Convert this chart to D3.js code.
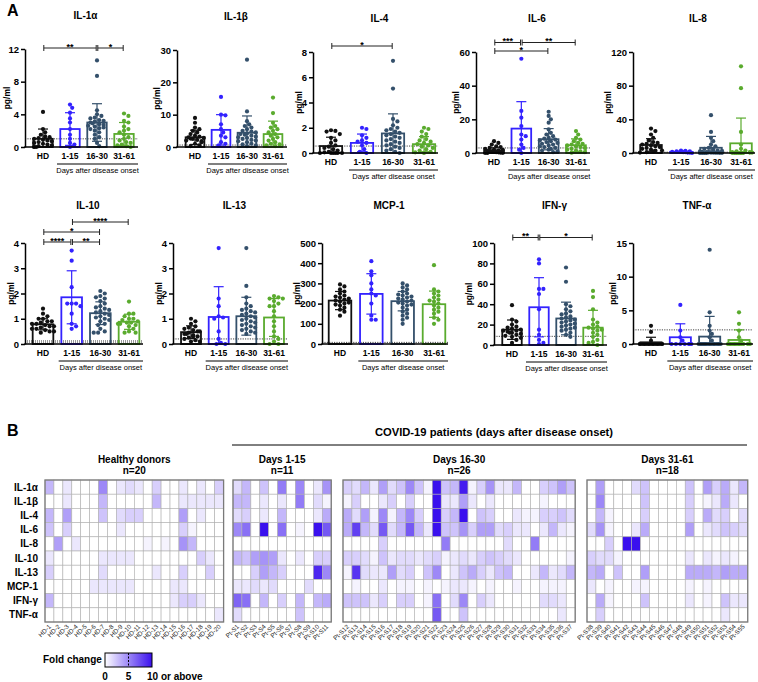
<!DOCTYPE html>
<html><head><meta charset="utf-8">
<script src="https://cdn.jsdelivr.net/npm/d3@7"></script>
<style>
body{margin:0;background:#fff}
svg{display:block}
text{font-family:"Liberation Sans",Arial,Helvetica,sans-serif}
</style>
</head><body><svg id="c" width="758" height="682"></svg>
<script>
// ---------------- DATA ----------------
const cytokines = ["IL-1α","IL-1β","IL-4","IL-6","IL-8","IL-10","IL-13","MCP-1","IFN-γ","TNF-α"];
const groups = ["HD","1-15","16-30","31-61"];
const yTicks = [[0,4,8,12],[0,10,20,30],[0,2,4,6,8],[0,20,40,60],[0,40,80,120],[0,1,2,3,4],[0,1,2,3,4],[0,100,200,300,400,500],[0,20,40,60,80,100],[0,5,10,15]];
const detectionLimit = [1.0,0.6,0.55,3.0,1.0,0.1,0.2,8,8.5,2.1];
const means = [[1.0,2.2,3.0,1.6],[3.0,5.3,4.4,4.0],[0.55,0.8,1.55,0.7],[1.6,14.5,8.2,4.6],[9.5,1.4,6.2,11.5],
               [0.78,1.85,1.22,0.88],[0.47,1.07,1.1,1.05],[215,248,212,197],[15,37,26,17],[0.25,1.0,1.1,0.6]];
const sds = [[1.2,2.0,2.3,1.4],[2.2,4.7,5.2,4.0],[0.7,0.7,1.55,0.6],[1.5,16,6.3,3.8],[7.5,0.8,13.5,30],
             [0.22,1.05,0.45,0.3],[0.25,1.2,0.75,0.75],[45,100,48,65],[9.5,29,16,17],[0.75,2.0,3.0,1.5]];

const pts_IL1a = [[4.3,2.2,1.8,1.5,1.3,1.2,1.1,1.0,0.9,0.8,0.7,0.6,0.5,0.4,0.3,0.2,0.1,0,0,0],
  [5.2,4.8,4.2,3.5,3.0,2.2,1.5,1.0,0.5,0.3,0],
  [10.6,8.7,4.5,4.0,3.8,3.6,3.5,3.3,3.2,3.1,3.0,2.9,2.8,2.7,2.6,2.5,2.4,2.3,2.2,2.0,1.8,1.5,1.2,1.0,0.5,0.1],
  [4.1,3.8,3.2,3.0,2.5,2.2,2.0,1.8,1.5,1.2,1.0,0.8,0.6,0.5,0.3,0.2,0.1,0]];
const pts_IL1b = [[9,7.5,6,5.5,5,4.5,4,3.5,3.2,3,2.8,2.6,2.5,2.2,2,1.8,1.5,1,0.5,0.3],
  [15.5,10,9.8,7,5.5,4.5,3.5,3,1.5,1,0.5],
  [27,11,8,7,6.5,6,5.5,5,4.8,4.5,4.2,4,3.8,3.5,3.2,3,2.8,2.5,2.2,2,1.8,1.5,1,0.8,0.5,0.3],
  [15.3,10.5,7.5,6.5,6,5.5,5,4.5,4,3.5,3,2.5,2,1.5,1,0.8,0.5,0.3]];
const pts_IL4 = [[1.8,1.75,1.7,1.5,1.2,1.0,0.8,0.6,0.5,0.4,0.3,0.2,0.1,0.05,0,0,0,0,0,0],
  [2.0,1.9,1.4,1.2,1.0,0.9,0.8,0.6,0.3,0.1,0],
  [7.3,5.1,2.7,2.5,2.2,2.0,1.9,1.8,1.7,1.6,1.5,1.4,1.3,1.2,1.1,1.0,0.9,0.8,0.7,0.6,0.5,0.4,0.3,0.2,0.1,0],
  [2.0,1.9,1.7,1.5,1.3,1.1,1.0,0.9,0.8,0.7,0.6,0.5,0.4,0.3,0.2,0.1,0.05,0]];
const pts_IL6 = [[7,6,5,4,3.5,3,2.5,2,1.8,1.5,1.2,1,0.8,0.6,0.5,0.4,0.2,0.1,0,0],
  [56,25,21,16,11,10,8,5,3,2,0],
  [24.5,22,20,18,14,12,11,10,9,8.5,8,7.5,7,6.5,6,5.5,5,4.5,4,3.5,3,2.5,2,1.5,1,0.5],
  [13,11,9,8,7,6,5.5,5,4.5,4,3.5,3,2.5,2,1.5,1,0.5,0.2]];
const pts_IL8 = [[29,26,22,18,15,13,12,11,10,9,8,7,6,5,4,3,3,2,1,0.5],
  [3,2.5,2,2,1.5,1.5,1,1,0.5,0.5,0],
  [45,25,18,14,10,8,6,5,4,3,2.5,2,1.5,1,1,0.8,0.5,0.5,0.3,0.3,0.2,0.2,0.1,0.1,0,0],
  [103,77,25,10,5,3,2,1,1,0.5,0.5,0.3,0.2,0.1,0,0,0,0]];
const pts_IL10 = [[1.4,1.2,1.1,1.0,1.0,0.9,0.9,0.85,0.8,0.8,0.75,0.7,0.7,0.65,0.6,0.6,0.55,0.5,0.5,0.45],
  [3.7,3.3,2.25,1.6,1.6,1.6,1.5,1.2,0.8,0.7,0.6],
  [2.1,2.0,1.9,1.85,1.8,1.7,1.6,1.5,1.45,1.4,1.35,1.3,1.25,1.2,1.15,1.1,1.05,1.0,0.95,0.9,0.8,0.75,0.6,0.5,0.45,0.45],
  [1.68,1.2,1.2,1.1,1.0,1.0,0.95,0.9,0.85,0.85,0.8,0.8,0.75,0.7,0.6,0.5,0.45,0.45]];
const pts_IL13 = [[1.0,0.9,0.8,0.7,0.65,0.6,0.55,0.5,0.5,0.45,0.4,0.4,0.35,0.3,0.3,0.25,0.2,0.15,0.1,0.1],
  [3.8,1.8,1.5,1.1,1.05,1.0,0.5,0.2,0.05,0.0,0.0],
  [3.8,2.3,1.85,1.6,1.5,1.4,1.35,1.3,1.25,1.2,1.15,1.1,1.05,1.0,0.95,0.9,0.85,0.8,0.75,0.7,0.65,0.6,0.55,0.5,0.45,0.4],
  [1.9,1.85,1.8,1.8,1.7,1.6,1.5,1.5,1.3,1.1,0.9,0.7,0.5,0.3,0.2,0.1,0.0,0.0]];
const pts_MCP1 = [[295,285,270,260,250,240,235,230,225,220,215,210,205,200,195,190,180,170,160,140],
  [410,360,340,300,270,250,240,200,140,120,120],
  [300,290,280,270,260,250,245,240,235,230,225,220,215,210,205,200,195,190,180,170,160,150,140,130,120,100],
  [390,270,260,250,240,230,220,215,210,200,190,180,170,160,150,130,120,100]];
const pts_IFNg = [[39,25,23,20,18,17,16,15,14,14,13,12,12,11,10,9,8,7,5,2],
  [84,80,55,55,50,35,15,10,5,2,1],
  [76,62,40,38,35,33,31,30,28,27,26,25,24,23,22,21,20,19,18,17,16,15,14,12,10,8],
  [53,47,35,25,22,20,18,17,16,15,14,12,10,8,5,3,2,0]];
const pts_TNFa = [[2.7,1.8,0.5,0,0,0,0,0,0,0,0,0,0,0,0,0,0,0,0,0],
  [5.8,2.0,1.0,0.5,0,0,0,0,0,0,0],
  [14,4.7,2.7,2.0,1.5,1.0,0.5,0,0,0,0,0,0,0,0,0,0,0,0,0,0,0,0,0,0,0],
  [4.7,3.0,2.0,1.0,0.5,0,0,0,0,0,0,0,0,0,0,0,0,0]];
const points = [pts_IL1a,pts_IL1b,pts_IL4,pts_IL6,pts_IL8,pts_IL10,pts_IL13,pts_MCP1,pts_IFNg,pts_TNFa];

const sigBrackets = [
  {cyto:0, level:0,   segs:[["HD","16-30","**"],["16-30","31-61","*"]]},
  {cyto:2, level:0.5, segs:[["HD","16-30","*"]]},
  {cyto:3, level:0,   segs:[["HD","16-30","*"]]},
  {cyto:3, level:0.85,segs:[["HD","1-15","***"],["1-15","31-61","**"]]},
  {cyto:5, level:0,   segs:[["HD","1-15","****"],["1-15","16-30","**"]]},
  {cyto:5, level:1,   segs:[["HD","16-30","*"]]},
  {cyto:5, level:2,   segs:[["1-15","31-61","****"]]},
  {cyto:8, level:0.45,segs:[["HD","1-15","**"],["1-15","31-61","*"]]}
];

// Heatmap (fold change)
const hdLabels = ["HD-1","HD-2","HD-3","HD-4","HD-5","HD-6","HD-7","HD-8","HD-9","HD-10","HD-11","HD-12","HD-13","HD-14","HD-15","HD-16","HD-17","HD-18","HD-19","HD-20"];
const d1Labels = ["Pt-S1","Pt-S2","Pt-S3","Pt-S4","Pt-S5","Pt-S6","Pt-S7","Pt-S8","Pt-S9","Pt-S10","Pt-S11"];
const d2Labels = ["Pt-S12","Pt-S13","Pt-S14","Pt-S15","Pt-S16","Pt-S17","Pt-S18","Pt-S19","Pt-S20","Pt-S21","Pt-S22","Pt-S23","Pt-S24","Pt-S25","Pt-S26","Pt-S27","Pt-S28","Pt-S29","Pt-S30","Pt-S31","Pt-S32","Pt-S33","Pt-S34","Pt-S35","Pt-S36","Pt-S37"];
const d3Labels = ["Pt-S38","Pt-S39","Pt-S40","Pt-S41","Pt-S42","Pt-S43","Pt-S44","Pt-S45","Pt-S46","Pt-S47","Pt-S48","Pt-S49","Pt-S50","Pt-S51","Pt-S52","Pt-S53","Pt-S54","Pt-S55"];

const fold_HD = [
  [3,0,1,0,0,0,5,0,1,1.5,1,0,2,0,0,1,0,1,0,2],
  [0,0,1,0,0,0,3,0,0,0,0,0,3,0,0,1,1,1,1,1],
  [3,0,4,0,0,0,2.5,0,1.5,2,2,0,0,0,0,4,0,1,0,0],
  [2.5,0,2,0,0,0,0,0,1,0,0,0,0,0,0,2,0.5,0,0,0],
  [0,4,0,1,0,0,0,0,0,0,0,0.5,0,0.5,0,4.5,3,0,0,0],
  [1,0,0,0,0,0,1,1,1,1,0,0,0,0,0,0,0,2,1,0],
  [2,0,0,0,0,0,1.5,0,0,0,0,0,1,0,0,2,0,0,2,0],
  [0,0,0,0,0,1,1,1,1,1,0,0,0,0,1,1,0,0,0,0],
  [3,0,0,0,0,0,0,0,0,0,0,0,0,0,1,2,2,1,0,0],
  [0,0,0,0,0,0,0,0,0,0,0,0,0,0,0,0,0,0,0,1]];
const fold_D1 = [
  [1.5,3,0,2.5,0,5.5,0,5,0,1,4.5],
  [3,3,0,1,0,1,0,5.5,0,1.5,0.5],
  [1.5,2,0,1,0,3,0,0,0,1,3.5],
  [5,6,0,10,0,6,0,0.5,0,10,7],
  [0,0,0,0,0,0,0,0,0,0,0],
  [3,2.5,4,4.5,4,1,0,1,0,2,2],
  [0,0,2,4,3,2,0,0,0,9,5],
  [1,1,1.5,1,1.5,0,0,0,1.5,0,0],
  [6.5,6,0,3,0,2,0,3,0,3,3.5],
  [1.5,0,0,0,0,0,0,2.5,0,0,0]];
const fold_D2 = [
  [2,1.5,3,1,4,1.5,2.5,5,2.5,0.5,10,2.5,3,9.5,0.5,2,4.5,1,1,3,0,0,2,2.5,4,2.5],
  [0.5,2,0,0,1,2,0,2,0,0,10,1,1,4,1,0,1,0,0,0,0,0,0.5,0,0,0],
  [3.5,1.5,4,0.5,5,0.5,3,5,2,0,10,2,3,10,0,2.5,2,0,0,1,0.5,0.5,2,2,2.5,1.5],
  [3.5,8,3,1.5,7,1.5,3,7,3,1,10,2.5,2.5,4.5,2,4,4,1.5,2,1,1,0,1,3,1,0.5],
  [0,0,0,0,2,0,0,0,0,0,0,5.5,0,0,0,0,0,0,1.5,0,0,5.5,0,0,0,0],
  [2,2,1.5,0.5,2.5,1,1.5,1.5,1,1.5,2,0.5,1,1.5,1,2,2.5,2,1.5,1,0,0,0,0,0,0.5],
  [0.5,8.5,1.5,1,1,4,1.5,2,0,2.5,5,0,1,2.5,3.5,2,1,2.5,3,0,0,1,3,1,1.5,3],
  [0,0.5,0,0,1,0,0.5,0.5,0,0.5,0,0.5,1,1,0.5,0,0.5,0,0,0.5,0,0,0.5,0.5,0.5,0],
  [2.5,2.5,2.5,1,2,0,2,2,0,0.5,6,0,1.5,5,0,2,1,0,0,0,0,0,1.5,1.5,1,0],
  [0,0,0,0,0,0,0,0,0,0,7,0,0,2.5,0,0,0,0,0,0,0,0,0,0,1,0]];
const fold_D3 = [
  [0,4,0,0,0,1.5,2.5,0,0,0,0,2.5,0,4,2,3.5,1,3],
  [0,5,0,0,0,0,2.5,0,0,0,0,2,0,0.5,1,3.5,1,0],
  [0,3,0.5,0,0,0,2,0,0,0,0,2,0,3.5,1.5,2,0,1.5],
  [1.5,4.5,0.5,0,0,1,3.5,0,0,0,0,4,0,1,1.5,2.5,2,1.5],
  [0,0,2,0,10,10,0,0,0,0,0,0,0,0,0,0,0,0],
  [2,1.5,1.5,0.5,0,0,0,0,0,0,0,1,0,1,0.5,1,0.5,0],
  [3,3.5,0,2.5,0,0,4,0,0,0,0,3.5,3.5,3.5,3,4,3.5,3.5],
  [1,0,0.5,0,0,0.5,0.5,0,0,0,0,0.5,0,0.5,0,0,0,0],
  [0,3.5,0.5,0,0,0,2.5,0,0,0,0,1,0,0.5,0,2.5,1,1],
  [0,2,0,0,0,0,0,0,0,0,0,0,0,0,0,1,0,0]];
const legendTicks = ["0","5","10 or above"];

// ---------------- DRAW ----------------
const FONT = '"Liberation Sans",Arial,Helvetica,sans-serif';
const svg = d3.select("#c");
const groupColors = ["#111111","#3322ff","#34506b","#5aab2e"];

svg.append("text").attr("x",7).attr("y",16).attr("font-size",16).attr("font-weight","bold").text("A");
svg.append("text").attr("x",7).attr("y",436).attr("font-size",16).attr("font-weight","bold").text("B");

const layout = [
  {x0:25,x1:138,yt:49,yb:147},{x0:177,x1:287,yt:50,yb:147},{x0:313,x1:438,yt:52,yb:153},
  {x0:476,x1:590,yt:52,yb:153},{x0:633,x1:755,yt:52,yb:153},
  {x0:25,x1:143,yt:243,yb:344},{x0:173,x1:288,yt:243,yb:344},{x0:322,x1:448,yt:243,yb:344},
  {x0:494,x1:607,yt:243,yb:345},{x0:633,x1:753,yt:243,yb:344}
];

function swarm(vals, cx, y, r, maxHalf){
  const pts = vals.map(v=>({v,py:y(v)})).sort((a,b)=>a.py-b.py);
  const placed=[]; const dmin=2*r*0.92; const stepX=r*1.05;
  pts.forEach((p,pi)=>{
    let best=null;
    for(let k=0;k<60;k++){
      const off=(k===0?0:(k%2?1:-1)*Math.ceil(k/2))*stepX;
      if(Math.abs(off)>maxHalf) continue;
      if(placed.every(q=>Math.hypot(q.px-(cx+off),q.py-p.py)>=dmin)){best=cx+off;break;}
    }
    if(best===null){ const n=Math.floor(maxHalf/stepX); const k=pi%(2*n+1); best=cx+(k-n)*stepX; }
    p.px=best; placed.push(p);
  });
  return placed;
}

cytokines.forEach((name,ci)=>{
  const L=layout[ci];
  const ymax=d3.max(yTicks[ci]);
  const y=d3.scaleLinear().domain([0,ymax]).range([L.yb,L.yt]);
  const x=d3.scalePoint().domain(groups).range([L.x0+18,L.x1-14]);
  const step=x.step(); const bw=step*0.72;
  const g=svg.append("g");
  g.append("text").attr("x",(L.x0+L.x1)/2+4).attr("y",L.yt-(ci<5?30:34)).attr("text-anchor","middle")
    .attr("font-size",10).attr("font-weight","bold").text(name);
  const dl=detectionLimit[ci];
  g.append("line").attr("x1",L.x0).attr("x2",L.x1).attr("y1",y(dl)).attr("y2",y(dl))
    .attr("stroke",ci===5?"#9a9a9a":"#444").attr("stroke-width",ci===5?3:1).attr("stroke-dasharray",ci===5?"1,1":"1.2,1.2");
  groups.forEach((gr,gi)=>{
    const col=groupColors[gi]; const cx=x(gr);
    const m=means[ci][gi], s=sds[ci][gi];
    const sw=swarm(points[ci][gi],cx,y,2.1,bw/2+1);
    g.selectAll(null).data(sw).enter().append("circle").attr("cx",d=>d.px).attr("cy",d=>d.py).attr("r",2.1).attr("fill",col);
    g.append("rect").attr("x",cx-bw/2).attr("y",y(m)).attr("width",bw).attr("height",y(0)-y(m))
      .attr("fill","none").attr("stroke",col).attr("stroke-width",1.8);
    const hi=m+s, lo=Math.max(0,m-s);
    g.append("line").attr("x1",cx).attr("x2",cx).attr("y1",y(hi)).attr("y2",y(lo)).attr("stroke",col).attr("stroke-width",1.2);
    g.append("line").attr("x1",cx-5).attr("x2",cx+5).attr("y1",y(hi)).attr("y2",y(hi)).attr("stroke",col).attr("stroke-width",1.2);
    if(m-s>0) g.append("line").attr("x1",cx-5).attr("x2",cx+5).attr("y1",y(lo)).attr("y2",y(lo)).attr("stroke",col).attr("stroke-width",1.2);
    g.append("text").attr("x",cx).attr("y",L.yb+12).attr("text-anchor","middle").attr("font-size",8.5).attr("font-weight","bold").text(gr);
  });
  const ya=g.append("g").attr("transform",`translate(${L.x0},0)`)
    .call(d3.axisLeft(y).tickValues(yTicks[ci]).tickSize(4).tickSizeOuter(0).tickPadding(2).tickFormat(d3.format("d")));
  ya.select(".domain").attr("stroke","#000").attr("stroke-width",1.5);
  ya.selectAll(".tick line").attr("stroke","#000").attr("stroke-width",1.5);
  ya.selectAll(".tick text").attr("font-size",9.5).attr("font-weight","bold").attr("fill","#000").attr("font-family",FONT);
  let tw=0; ya.selectAll(".tick text").each(function(){tw=Math.max(tw,this.getComputedTextLength());});
  const px=Math.max(9.5, L.x0-tw-6);
  g.append("text").attr("transform",`translate(${px},${(L.yt+L.yb)/2}) rotate(-90)`).attr("text-anchor","middle")
    .attr("font-size",8.5).attr("font-weight","bold").text("pg/ml");
  g.append("line").attr("x1",L.x0-0.75).attr("x2",L.x1).attr("y1",L.yb).attr("y2",L.yb).attr("stroke","#000").attr("stroke-width",1.5);
  const ux0=x("1-15")-13, ux1=L.x1;
  g.append("line").attr("x1",ux0).attr("x2",ux1).attr("y1",L.yb+17).attr("y2",L.yb+17).attr("stroke","#000").attr("stroke-width",1);
  g.append("text").attr("x",(ux0+ux1)/2).attr("y",L.yb+26).attr("text-anchor","middle").attr("font-size",7.5).text("Days after disease onset");
  sigBrackets.filter(b=>b.cyto===ci).forEach(b=>{
    const by=L.yt-1-b.level*10;
    b.segs.forEach(([a,c,lab])=>{
      const xa=x(a)+0.8, xc=x(c)-0.8;
      g.append("line").attr("x1",xa).attr("x2",xc).attr("y1",by).attr("y2",by).attr("stroke","#222").attr("stroke-width",1);
      [xa,xc].forEach(xx=>g.append("line").attr("x1",xx).attr("x2",xx).attr("y1",by-3).attr("y2",by+3).attr("stroke","#222").attr("stroke-width",1));
      g.append("text").attr("x",(xa+xc)/2).attr("y",by+1.5).attr("text-anchor","middle").attr("font-size",9).attr("font-weight","bold").text(lab);
    });
  });
});

// ---------- Heatmap ----------
const cw=8.93, ch=14.2, hy0=480;
const hColor=d3.scaleLinear().domain([0,10]).range(["#ffffff","#3a10ee"]).clamp(true);
const blocks=[
  {t1:"Healthy donors",t2:"n=20",labels:hdLabels,fold:fold_HD,x:45},
  {t1:"Days 1-15",t2:"n=11",labels:d1Labels,fold:fold_D1,x:233},
  {t1:"Days 16-30",t2:"n=26",labels:d2Labels,fold:fold_D2,x:343},
  {t1:"Days 31-61",t2:"n=18",labels:d3Labels,fold:fold_D3,x:587}
];
const hm=svg.append("g");
cytokines.forEach((c,ri)=>{
  hm.append("text").attr("x",38).attr("y",hy0+ri*ch+ch/2+3.5).attr("text-anchor","end").attr("font-size",10).attr("font-weight","bold").text(c);
});
blocks.forEach(b=>{
  const n=b.labels.length; const xs=d3.scaleBand().domain(b.labels).range([b.x,b.x+n*cw]);
  const ys=d3.scaleBand().domain(cytokines).range([hy0,hy0+10*ch]);
  b.fold.forEach((row,ri)=>row.forEach((v,ii)=>{
    hm.append("rect").attr("x",xs(b.labels[ii])).attr("y",ys(cytokines[ri])).attr("width",cw).attr("height",ch)
      .attr("fill",hColor(v)).attr("stroke","#b0b0b0").attr("stroke-width",0.6);
  }));
  hm.append("rect").attr("x",b.x).attr("y",hy0).attr("width",n*cw).attr("height",10*ch).attr("fill","none").attr("stroke","#7a7a7a").attr("stroke-width",1.3);
  b.labels.forEach(l=>{
    const cx=xs(l)+cw/2+2;
    hm.append("text").attr("transform",`translate(${cx},${hy0+10*ch+5}) rotate(-45)`).attr("text-anchor","end").attr("font-size",6.3).attr("fill","#222").text(l);
  });
  const mx=b.x+n*cw/2;
  hm.append("text").attr("x",mx).attr("y",463).attr("text-anchor","middle").attr("font-size",10).attr("font-weight","bold").text(b.t1);
  hm.append("text").attr("x",mx).attr("y",474).attr("text-anchor","middle").attr("font-size",10).attr("font-weight","bold").text(b.t2);
});
hm.append("text").attr("x",494).attr("y",436).attr("text-anchor","middle").attr("font-size",11.2).attr("font-weight","bold").text("COVID-19 patients (days after disease onset)");
hm.append("line").attr("x1",232).attr("x2",747).attr("y1",445).attr("y2",445).attr("stroke","#000").attr("stroke-width",1);

// legend
const defs=svg.append("defs");
const grad=defs.append("linearGradient").attr("id","lg");
grad.append("stop").attr("offset","0%").attr("stop-color",hColor(0));
grad.append("stop").attr("offset","100%").attr("stop-color",hColor(10));
const lx=d3.scaleLinear().domain([0,10]).range([105,152]);
svg.append("text").attr("x",43).attr("y",663).attr("font-size",10).attr("font-weight","bold").text("Fold change");
svg.append("rect").attr("x",lx(0)).attr("y",653).attr("width",lx(10)-lx(0)).attr("height",14).attr("fill","url(#lg)").attr("stroke","#000").attr("stroke-width",1);
svg.append("line").attr("x1",lx(5)).attr("x2",lx(5)).attr("y1",653).attr("y2",667).attr("stroke","#000").attr("stroke-width",1).attr("stroke-dasharray","2,1.5");
[0,5,10].forEach((v,i)=>{
  svg.append("text").attr("x",i<2?lx(v):lx(v)-5).attr("y",680).attr("text-anchor",i<2?"middle":"start").attr("font-size",10).attr("font-weight","bold").text(legendTicks[i]);
});
</script>
</body></html>
